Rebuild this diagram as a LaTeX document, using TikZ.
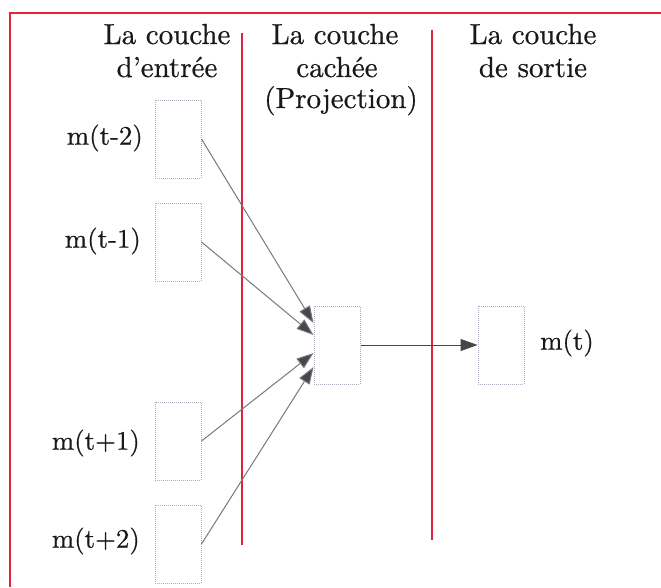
\documentclass[tikz,border=0pt]{standalone}
\usepackage{fontspec}
\newfontfamily\tfont{lmroman10-regular}[Extension=.otf,FakeBold=0.6]
\usetikzlibrary{arrows.meta}
\definecolor{redline}{RGB}{225,35,60}
\definecolor{boxline}{RGB}{170,175,190}
\definecolor{conn}{RGB}{120,120,128}
\definecolor{tipc}{RGB}{70,70,75}
\begin{document}
\begin{tikzpicture}[x=1pt,y=-1pt,
  neuron/.style={draw=boxline,densely dotted,line width=1pt,minimum width=46pt,minimum height=78pt,inner sep=0pt},
  lbl/.style={font=\tfont\fontsize{26.8}{32}\selectfont,inner sep=0pt,text=black!90},
  title/.style={font=\tfont\fontsize{29}{33}\selectfont,inner sep=0pt,anchor=base,text=black!90},
  conn/.style={draw=conn,line width=1pt,-{Triangle[length=17pt,width=12pt,fill=tipc]}},
  sep/.style={draw=redline,line width=1.6pt}]
\useasboundingbox (0,0) rectangle (661,587);
\fill[white] (0,0) rectangle (661,587);
% frame
\coordinate (fa) at (10,587);
\coordinate (fb) at (10,13);
\coordinate (fc) at (661,13);
\draw[sep] (fa) -- (fb) -- (fc);
% separators
\coordinate (s1t) at (242,33); \coordinate (s1b) at (242,545);
\coordinate (s2t) at (432,30); \coordinate (s2b) at (432,540);
\draw[sep] (s1t) -- (s1b);
\draw[sep] (s2t) -- (s2b);
% titles
\node[title] (t1a) at (167,44) {La couche};
\node[title] (t1b) at (167,77) {d’entrée};
\node[title] (t2a) at (335,44) {La couche};
\node[title] (t2b) at (337,77) {cachée};
\node[title] (t2c) at (341,108) {(Projection)};
\node[title] (t3a) at (533,44) {La couche};
\node[title] (t3b) at (533,77) {de sortie};
% input neurons
\node[neuron] (i1) at (178,139) {};
\node[neuron] (i2) at (178,242) {};
\node[neuron] (i3) at (178,441) {};
\node[neuron] (i4) at (178,544) {};
\node[lbl,anchor=east] (l1) at (143,138) {m(t-2)};
\node[lbl,anchor=east] (l2) at (141,241) {m(t-1)};
\node[lbl,anchor=east] (l3) at (140,443) {m(t+1)};
\node[lbl,anchor=east] (l4) at (140,541) {m(t+2)};
% hidden
\node[neuron] (h) at (337,345) {};
% output
\node[neuron] (o) at (501,345) {};
\node[lbl,anchor=west] (lo) at (540,343) {m(t)};
% connectors
\draw[conn] (i1.east) -- ([yshift=22pt]h.west);
\draw[conn] (i2.east) -- ([yshift=10pt]h.west);
\draw[conn] (i3.east) -- ([yshift=-8pt]h.west);
\draw[conn] (i4.east) -- ([yshift=-22pt]h.west);
\draw[conn,draw=tipc] (h.east) -- (o.west);
\end{tikzpicture}
\end{document}
